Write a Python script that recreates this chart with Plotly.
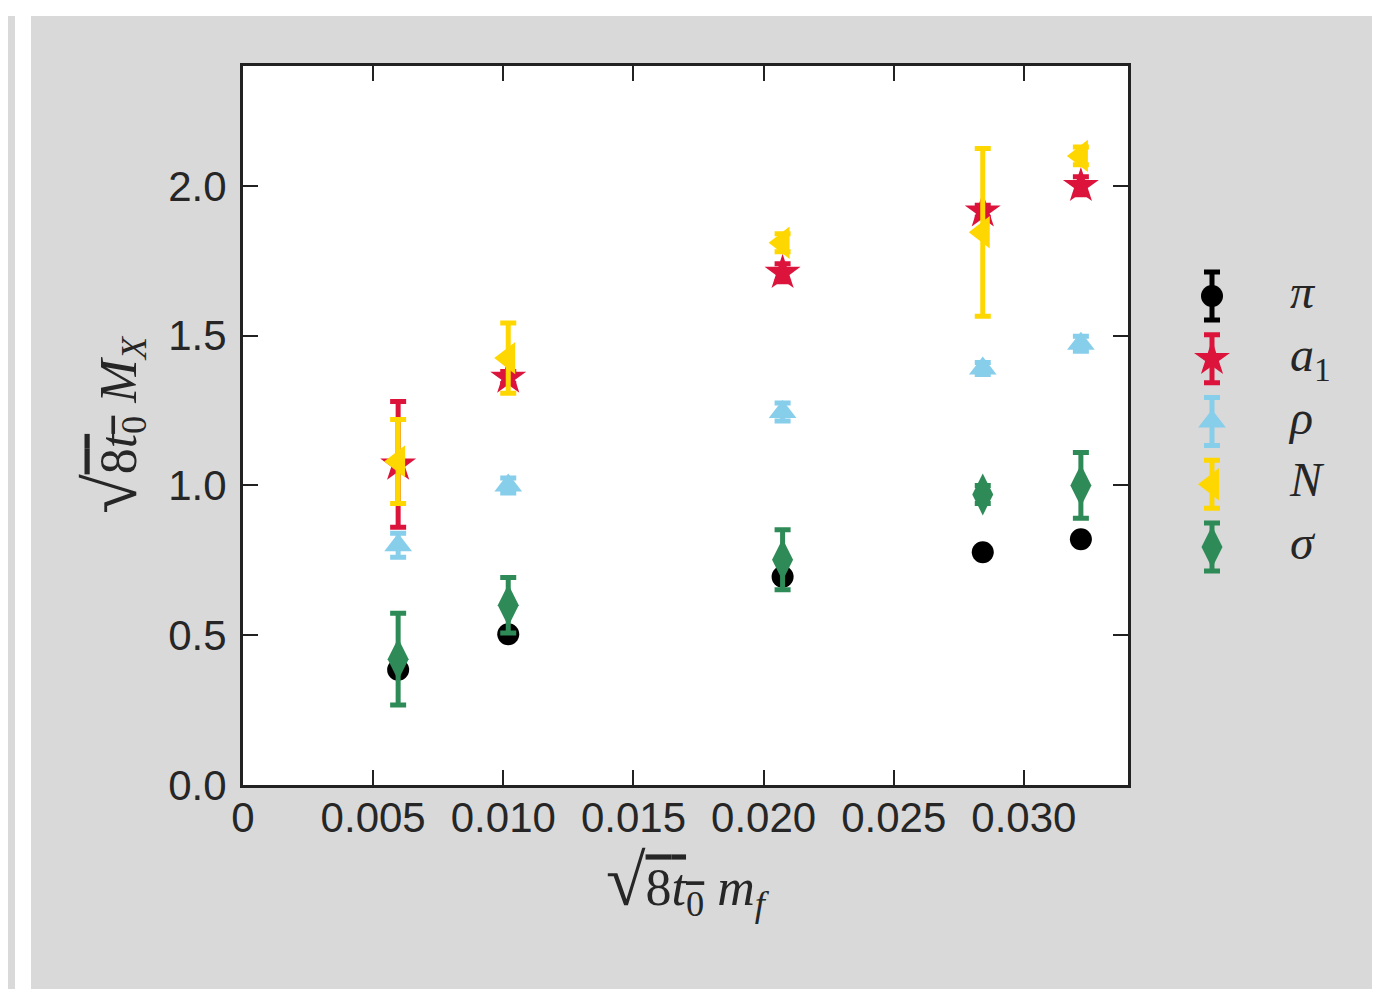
import plotly.graph_objects as go

# data
mf = [0.00596, 0.01019, 0.02073, 0.02842, 0.03219]
pi_val = [0.385, 0.503, 0.695, 0.777, 0.820]
pi_err = [0.005, 0.005, 0.005, 0.005, 0.005]
a1_val = [1.07, 1.36, 1.71, 1.915, 2.00]
a1_err = [0.21, 0.02, 0.03, 0.02, 0.03]
rho_val = [0.80, 1.00, 1.245, 1.39, 1.473]
rho_err = [0.04, 0.025, 0.03, 0.02, 0.025]
N_val = [1.08, 1.425, 1.81, 1.845, 2.10]
N_err = [0.14, 0.117, 0.03, 0.28, 0.03]
sig_val = [0.42, 0.60, 0.752, 0.97, 1.00]
sig_err = [0.153, 0.093, 0.10, 0.03, 0.11]

xticks = [0, 0.005, 0.010, 0.015, 0.020, 0.025, 0.030]
xticklabels = ["0", "0.005", "0.010", "0.015", "0.020", "0.025", "0.030"]
yticks = [0.0, 0.5, 1.0, 1.5, 2.0]
yticklabels = ["0.0", "0.5", "1.0", "1.5", "2.0"]

names = ["<i>π</i>", "<i>a</i><sub>1</sub>", "<i>ρ</i>", "<i>N</i>", "<i>σ</i>"]
values = [pi_val, a1_val, rho_val, N_val, sig_val]
errors = [pi_err, a1_err, rho_err, N_err, sig_err]
colors = ["black", "#DC143C", "#87CEEB", "#FFD700", "#2E8B57"]
symbols = ["circle", "star", "triangle-up", "triangle-left", "diamond-tall"]
sizes = [22, 27, 24, 28, 30]

# figure geometry (page is offset by the 8px body margin)
OFF = 8
W, H = 1380 - OFF, 989 - OFF
L, R, T, B = 243 - OFF, 1128 - OFF, 66 - OFF, 785 - OFF
PR = W - 8  # right edge of paper area
paper_w = PR - L

def fx(x):  # figure px -> paper x
    return (x - L) / paper_w

def fy(y):  # figure px -> paper y
    return (B - y) / (B - T)

main_dom = [0, fx(R)]

# legend space geometry
leg_x0, leg_x1 = 1150 - OFF, PR
leg_marker_x = 1212 - OFF
leg_text_x = 1290 - OFF
row_top, row_bot = 296 - OFF, 547 - OFF
n = len(names)
row_px = (row_bot - row_top) / (n - 1)
y2_lo = 0 - (B - row_bot) / row_px
y2_hi = (n - 1) + (row_top - T) / row_px
x2_lo = 0 - (leg_marker_x - leg_x0)
x2_hi = (leg_x1 - leg_marker_x)
leg_err = 24 / row_px

fig = go.Figure()
for i in range(n):
    fig.add_trace(go.Scatter(
        x=mf, y=values[i], mode="markers", name=names[i], showlegend=False,
        marker=dict(symbol=symbols[i], color=colors[i], size=sizes[i], line=dict(width=0)),
        error_y=dict(type="data", array=errors[i], visible=True, color=colors[i],
                     thickness=5, width=8),
        xaxis="x", yaxis="y",
    ))

# legend keys
rows = list(range(n - 1, -1, -1))
for i in range(n):
    fig.add_trace(go.Scatter(
        x=[0], y=[rows[i]], mode="markers", showlegend=False, hoverinfo="skip",
        marker=dict(symbol=symbols[i], color=colors[i], size=sizes[i], line=dict(width=0)),
        error_y=dict(type="constant", value=leg_err, visible=True, color=colors[i],
                     thickness=5, width=8),
        xaxis="x2", yaxis="y2",
    ))
fig.add_trace(go.Scatter(
    x=[leg_text_x - leg_marker_x] * n, y=rows, mode="text", text=names,
    textposition="middle right", showlegend=False, hoverinfo="skip",
    textfont=dict(family="Liberation Serif, serif", size=48, color="#262626"),
    xaxis="x2", yaxis="y2",
))

shapes = [
    dict(type="rect", xref="x domain", yref="y domain", x0=0, x1=1, y0=0, y1=1,
         fillcolor="white", line=dict(width=0), layer="below"),
    dict(type="rect", xref="paper", yref="paper", x0=fx(0), x1=fx(W + 20), y0=fy(-20), y1=fy(16 - OFF),
         fillcolor="white", line=dict(width=0), layer="below"),
    dict(type="rect", xref="paper", yref="paper", x0=fx(15 - OFF), x1=fx(31 - OFF), y0=fy(-20), y1=fy(H + 20),
         fillcolor="white", line=dict(width=0), layer="below"),
]

axis_common = dict(
    showline=True, linecolor="#222222", linewidth=3, mirror="ticks",
    ticks="inside", ticklen=15, tickwidth=2, tickcolor="#222222",
    showgrid=False, zeroline=False,
    tickfont=dict(family="Liberation Sans, Arial, sans-serif", size=42, color="#262626"),
)

ov = "text-decoration:overline"
sqrt_part = ("<span style='font-size:72px'>√</span>"
             "<span style='%s'>8</span><span style='%s'><i>t</i></span>"
             "<sub><span style='%s'>0</span></sub>") % (ov, ov, ov)

title_font = dict(family="Liberation Serif, serif", size=52, color="#262626")

fig.update_layout(
    width=W, height=H,
    margin=dict(l=L, r=W - PR, t=T, b=H - B),
    paper_bgcolor="#d9d9d9", plot_bgcolor="rgba(0,0,0,0)",
    showlegend=False,
    shapes=shapes,
    xaxis=dict(domain=main_dom, range=[0, 0.034], tickvals=xticks, ticktext=xticklabels,
               ticklabelstandoff=-6,
               title=dict(text=sqrt_part + " <i>m</i><sub><i>f</i></sub>",
                          font=title_font, standoff=10),
               **axis_common),
    yaxis=dict(range=[0, 2.4], tickvals=yticks, ticktext=yticklabels,
               ticklabelstandoff=5,
               title=dict(text=sqrt_part + " <i>M</i><sub><i>X</i></sub>",
                          font=title_font, standoff=16),
               **axis_common),
    xaxis2=dict(domain=[fx(leg_x0), fx(leg_x1)], range=[x2_lo, x2_hi], visible=False,
                anchor="y2", fixedrange=True),
    yaxis2=dict(domain=[0, 1], range=[y2_lo, y2_hi], visible=False,
                anchor="x2", fixedrange=True),
)

fig.write_html("out.html")
